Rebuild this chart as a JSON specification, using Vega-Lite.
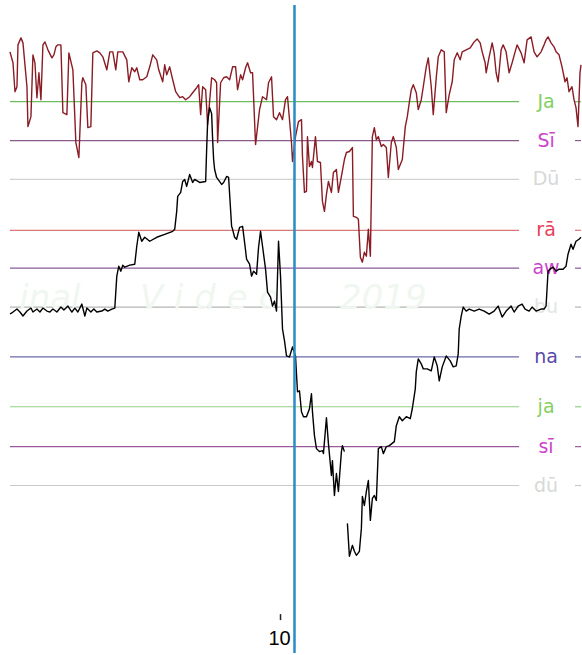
{
  "$schema": "https://vega.github.io/schema/vega-lite/v6.json",
  "width": 582,
  "height": 655,
  "autosize": {"type": "fit", "contains": "padding"},
  "padding": 0,
  "background": "#ffffff",
  "config": {"view": {"stroke": null}},
  "datasets": {
    "hl": [
      {"name": "Ja", "y": 102, "lc": "#6cbf5c", "tc": "#7fd060"},
      {"name": "Sī", "y": 141, "lc": "#8a5a8a", "tc": "#cc44cc"},
      {"name": "Dū", "y": 180, "lc": "#d2d2d2", "tc": "#d8d8d8"},
      {"name": "rā", "y": 231, "lc": "#d87878", "tc": "#e8405a"},
      {"name": "aw", "y": 269, "lc": "#8a5a9a", "tc": "#c844c8"},
      {"name": "bu", "y": 308, "lc": "#b4b4b4", "tc": "#e4e4e4"},
      {"name": "na", "y": 358, "lc": "#6a6aaa", "tc": "#5a4aa8"},
      {"name": "ja", "y": 408, "lc": "#90d080", "tc": "#84d060"},
      {"name": "sī", "y": 448, "lc": "#9a5a9a", "tc": "#cc44cc"},
      {"name": "dū", "y": 487, "lc": "#cacaca", "tc": "#d8d8d8"}
    ],
    "wm": [
      {"t": "inal", "x": 50, "y": 300},
      {"t": "V   i  d   e  o", "x": 210, "y": 300},
      {"t": "2019", "x": 384, "y": 300}
    ],
    "tk": [
      {"t": "10", "x": 280, "y": 641}
    ],
    "pts": [
      {"s": "#8a1c24", "g": "R", "x": 10, "y": 52},
      {"s": "#8a1c24", "g": "R", "x": 13, "y": 63},
      {"s": "#8a1c24", "g": "R", "x": 15, "y": 92},
      {"s": "#8a1c24", "g": "R", "x": 17, "y": 87},
      {"s": "#8a1c24", "g": "R", "x": 18, "y": 45},
      {"s": "#8a1c24", "g": "R", "x": 21, "y": 38},
      {"s": "#8a1c24", "g": "R", "x": 23, "y": 43},
      {"s": "#8a1c24", "g": "R", "x": 27, "y": 87},
      {"s": "#8a1c24", "g": "R", "x": 28, "y": 127},
      {"s": "#8a1c24", "g": "R", "x": 31, "y": 117},
      {"s": "#8a1c24", "g": "R", "x": 33, "y": 55},
      {"s": "#8a1c24", "g": "R", "x": 35, "y": 63},
      {"s": "#8a1c24", "g": "R", "x": 37, "y": 98},
      {"s": "#8a1c24", "g": "R", "x": 39, "y": 73},
      {"s": "#8a1c24", "g": "R", "x": 41, "y": 100},
      {"s": "#8a1c24", "g": "R", "x": 43, "y": 45},
      {"s": "#8a1c24", "g": "R", "x": 45, "y": 42},
      {"s": "#8a1c24", "g": "R", "x": 48, "y": 50},
      {"s": "#8a1c24", "g": "R", "x": 52, "y": 58},
      {"s": "#8a1c24", "g": "R", "x": 54, "y": 55},
      {"s": "#8a1c24", "g": "R", "x": 56, "y": 47},
      {"s": "#8a1c24", "g": "R", "x": 58, "y": 45},
      {"s": "#8a1c24", "g": "R", "x": 61, "y": 45},
      {"s": "#8a1c24", "g": "R", "x": 63, "y": 113},
      {"s": "#8a1c24", "g": "R", "x": 67, "y": 115},
      {"s": "#8a1c24", "g": "R", "x": 69, "y": 53},
      {"s": "#8a1c24", "g": "R", "x": 73, "y": 70},
      {"s": "#8a1c24", "g": "R", "x": 76, "y": 143},
      {"s": "#8a1c24", "g": "R", "x": 79, "y": 158},
      {"s": "#8a1c24", "g": "R", "x": 82, "y": 83},
      {"s": "#8a1c24", "g": "R", "x": 83, "y": 78},
      {"s": "#8a1c24", "g": "R", "x": 86, "y": 85},
      {"s": "#8a1c24", "g": "R", "x": 88, "y": 128},
      {"s": "#8a1c24", "g": "R", "x": 91, "y": 127},
      {"s": "#8a1c24", "g": "R", "x": 93, "y": 53},
      {"s": "#8a1c24", "g": "R", "x": 97, "y": 51},
      {"s": "#8a1c24", "g": "R", "x": 100, "y": 53},
      {"s": "#8a1c24", "g": "R", "x": 103, "y": 57},
      {"s": "#8a1c24", "g": "R", "x": 107, "y": 70},
      {"s": "#8a1c24", "g": "R", "x": 110, "y": 52},
      {"s": "#8a1c24", "g": "R", "x": 113, "y": 52},
      {"s": "#8a1c24", "g": "R", "x": 116, "y": 70},
      {"s": "#8a1c24", "g": "R", "x": 118, "y": 52},
      {"s": "#8a1c24", "g": "R", "x": 123, "y": 52},
      {"s": "#8a1c24", "g": "R", "x": 127, "y": 60},
      {"s": "#8a1c24", "g": "R", "x": 129, "y": 82},
      {"s": "#8a1c24", "g": "R", "x": 132, "y": 68},
      {"s": "#8a1c24", "g": "R", "x": 135, "y": 72},
      {"s": "#8a1c24", "g": "R", "x": 137, "y": 68},
      {"s": "#8a1c24", "g": "R", "x": 140, "y": 80},
      {"s": "#8a1c24", "g": "R", "x": 143, "y": 80},
      {"s": "#8a1c24", "g": "R", "x": 147, "y": 77},
      {"s": "#8a1c24", "g": "R", "x": 150, "y": 67},
      {"s": "#8a1c24", "g": "R", "x": 153, "y": 55},
      {"s": "#8a1c24", "g": "R", "x": 157, "y": 60},
      {"s": "#8a1c24", "g": "R", "x": 159, "y": 70},
      {"s": "#8a1c24", "g": "R", "x": 163, "y": 82},
      {"s": "#8a1c24", "g": "R", "x": 165, "y": 65},
      {"s": "#8a1c24", "g": "R", "x": 167, "y": 75},
      {"s": "#8a1c24", "g": "R", "x": 170, "y": 67},
      {"s": "#8a1c24", "g": "R", "x": 173, "y": 80},
      {"s": "#8a1c24", "g": "R", "x": 176, "y": 92},
      {"s": "#8a1c24", "g": "R", "x": 180, "y": 98},
      {"s": "#8a1c24", "g": "R", "x": 183, "y": 97},
      {"s": "#8a1c24", "g": "R", "x": 186, "y": 100},
      {"s": "#8a1c24", "g": "R", "x": 190, "y": 97},
      {"s": "#8a1c24", "g": "R", "x": 193, "y": 93},
      {"s": "#8a1c24", "g": "R", "x": 197, "y": 88},
      {"s": "#8a1c24", "g": "R", "x": 199, "y": 85},
      {"s": "#8a1c24", "g": "R", "x": 201, "y": 115},
      {"s": "#8a1c24", "g": "R", "x": 203, "y": 87},
      {"s": "#8a1c24", "g": "R", "x": 206, "y": 90},
      {"s": "#8a1c24", "g": "R", "x": 208, "y": 125},
      {"s": "#8a1c24", "g": "R", "x": 212, "y": 78},
      {"s": "#8a1c24", "g": "R", "x": 215, "y": 80},
      {"s": "#8a1c24", "g": "R", "x": 217, "y": 83},
      {"s": "#8a1c24", "g": "R", "x": 218, "y": 143},
      {"s": "#8a1c24", "g": "R", "x": 221, "y": 83},
      {"s": "#8a1c24", "g": "R", "x": 224, "y": 78},
      {"s": "#8a1c24", "g": "R", "x": 227, "y": 77},
      {"s": "#8a1c24", "g": "R", "x": 230, "y": 80},
      {"s": "#8a1c24", "g": "R", "x": 233, "y": 67},
      {"s": "#8a1c24", "g": "R", "x": 236, "y": 67},
      {"s": "#8a1c24", "g": "R", "x": 238, "y": 90},
      {"s": "#8a1c24", "g": "R", "x": 241, "y": 75},
      {"s": "#8a1c24", "g": "R", "x": 243, "y": 80},
      {"s": "#8a1c24", "g": "R", "x": 246, "y": 68},
      {"s": "#8a1c24", "g": "R", "x": 248, "y": 63},
      {"s": "#8a1c24", "g": "R", "x": 251, "y": 73},
      {"s": "#8a1c24", "g": "R", "x": 253, "y": 73},
      {"s": "#8a1c24", "g": "R", "x": 256, "y": 145},
      {"s": "#8a1c24", "g": "R", "x": 260, "y": 110},
      {"s": "#8a1c24", "g": "R", "x": 263, "y": 97},
      {"s": "#8a1c24", "g": "R", "x": 267, "y": 100},
      {"s": "#8a1c24", "g": "R", "x": 269, "y": 83},
      {"s": "#8a1c24", "g": "R", "x": 272, "y": 77},
      {"s": "#8a1c24", "g": "R", "x": 274, "y": 117},
      {"s": "#8a1c24", "g": "R", "x": 277, "y": 120},
      {"s": "#8a1c24", "g": "R", "x": 280, "y": 113},
      {"s": "#8a1c24", "g": "R", "x": 283, "y": 120},
      {"s": "#8a1c24", "g": "R", "x": 286, "y": 100},
      {"s": "#8a1c24", "g": "R", "x": 288, "y": 97},
      {"s": "#8a1c24", "g": "R", "x": 292, "y": 143},
      {"s": "#8a1c24", "g": "R", "x": 293, "y": 162},
      {"s": "#8a1c24", "g": "R", "x": 296, "y": 137},
      {"s": "#8a1c24", "g": "R", "x": 299, "y": 122},
      {"s": "#8a1c24", "g": "R", "x": 302, "y": 120},
      {"s": "#8a1c24", "g": "R", "x": 303, "y": 157},
      {"s": "#8a1c24", "g": "R", "x": 305, "y": 193},
      {"s": "#8a1c24", "g": "R", "x": 307, "y": 192},
      {"s": "#8a1c24", "g": "R", "x": 308, "y": 137},
      {"s": "#8a1c24", "g": "R", "x": 310, "y": 167},
      {"s": "#8a1c24", "g": "R", "x": 312, "y": 162},
      {"s": "#8a1c24", "g": "R", "x": 313, "y": 168},
      {"s": "#8a1c24", "g": "R", "x": 316, "y": 137},
      {"s": "#8a1c24", "g": "R", "x": 318, "y": 162},
      {"s": "#8a1c24", "g": "R", "x": 321, "y": 163},
      {"s": "#8a1c24", "g": "R", "x": 323, "y": 202},
      {"s": "#8a1c24", "g": "R", "x": 325, "y": 212},
      {"s": "#8a1c24", "g": "R", "x": 327, "y": 195},
      {"s": "#8a1c24", "g": "R", "x": 329, "y": 182},
      {"s": "#8a1c24", "g": "R", "x": 332, "y": 193},
      {"s": "#8a1c24", "g": "R", "x": 334, "y": 173},
      {"s": "#8a1c24", "g": "R", "x": 337, "y": 170},
      {"s": "#8a1c24", "g": "R", "x": 339, "y": 193},
      {"s": "#8a1c24", "g": "R", "x": 342, "y": 177},
      {"s": "#8a1c24", "g": "R", "x": 345, "y": 160},
      {"s": "#8a1c24", "g": "R", "x": 347, "y": 153},
      {"s": "#8a1c24", "g": "R", "x": 350, "y": 152},
      {"s": "#8a1c24", "g": "R", "x": 353, "y": 148},
      {"s": "#8a1c24", "g": "R", "x": 354, "y": 217},
      {"s": "#8a1c24", "g": "R", "x": 357, "y": 218},
      {"s": "#8a1c24", "g": "R", "x": 359, "y": 220},
      {"s": "#8a1c24", "g": "R", "x": 361, "y": 258},
      {"s": "#8a1c24", "g": "R", "x": 363, "y": 263},
      {"s": "#8a1c24", "g": "R", "x": 365, "y": 253},
      {"s": "#8a1c24", "g": "R", "x": 367, "y": 257},
      {"s": "#8a1c24", "g": "R", "x": 369, "y": 230},
      {"s": "#8a1c24", "g": "R", "x": 371, "y": 257},
      {"s": "#8a1c24", "g": "R", "x": 373, "y": 137},
      {"s": "#8a1c24", "g": "R", "x": 375, "y": 128},
      {"s": "#8a1c24", "g": "R", "x": 377, "y": 140},
      {"s": "#8a1c24", "g": "R", "x": 379, "y": 137},
      {"s": "#8a1c24", "g": "R", "x": 382, "y": 147},
      {"s": "#8a1c24", "g": "R", "x": 384, "y": 145},
      {"s": "#8a1c24", "g": "R", "x": 387, "y": 148},
      {"s": "#8a1c24", "g": "R", "x": 389, "y": 178},
      {"s": "#8a1c24", "g": "R", "x": 392, "y": 143},
      {"s": "#8a1c24", "g": "R", "x": 394, "y": 137},
      {"s": "#8a1c24", "g": "R", "x": 397, "y": 148},
      {"s": "#8a1c24", "g": "R", "x": 399, "y": 170},
      {"s": "#8a1c24", "g": "R", "x": 403, "y": 160},
      {"s": "#8a1c24", "g": "R", "x": 406, "y": 127},
      {"s": "#8a1c24", "g": "R", "x": 408, "y": 117},
      {"s": "#8a1c24", "g": "R", "x": 410, "y": 103},
      {"s": "#8a1c24", "g": "R", "x": 412, "y": 90},
      {"s": "#8a1c24", "g": "R", "x": 414, "y": 85},
      {"s": "#8a1c24", "g": "R", "x": 417, "y": 93},
      {"s": "#8a1c24", "g": "R", "x": 419, "y": 110},
      {"s": "#8a1c24", "g": "R", "x": 422, "y": 100},
      {"s": "#8a1c24", "g": "R", "x": 424, "y": 87},
      {"s": "#8a1c24", "g": "R", "x": 427, "y": 67},
      {"s": "#8a1c24", "g": "R", "x": 429, "y": 58},
      {"s": "#8a1c24", "g": "R", "x": 432, "y": 87},
      {"s": "#8a1c24", "g": "R", "x": 434, "y": 115},
      {"s": "#8a1c24", "g": "R", "x": 437, "y": 78},
      {"s": "#8a1c24", "g": "R", "x": 439, "y": 57},
      {"s": "#8a1c24", "g": "R", "x": 442, "y": 50},
      {"s": "#8a1c24", "g": "R", "x": 445, "y": 52},
      {"s": "#8a1c24", "g": "R", "x": 447, "y": 113},
      {"s": "#8a1c24", "g": "R", "x": 450, "y": 95},
      {"s": "#8a1c24", "g": "R", "x": 453, "y": 82},
      {"s": "#8a1c24", "g": "R", "x": 455, "y": 60},
      {"s": "#8a1c24", "g": "R", "x": 458, "y": 53},
      {"s": "#8a1c24", "g": "R", "x": 461, "y": 60},
      {"s": "#8a1c24", "g": "R", "x": 463, "y": 52},
      {"s": "#8a1c24", "g": "R", "x": 467, "y": 50},
      {"s": "#8a1c24", "g": "R", "x": 471, "y": 48},
      {"s": "#8a1c24", "g": "R", "x": 475, "y": 42},
      {"s": "#8a1c24", "g": "R", "x": 478, "y": 39},
      {"s": "#8a1c24", "g": "R", "x": 481, "y": 43},
      {"s": "#8a1c24", "g": "R", "x": 483, "y": 52},
      {"s": "#8a1c24", "g": "R", "x": 486, "y": 63},
      {"s": "#8a1c24", "g": "R", "x": 487, "y": 73},
      {"s": "#8a1c24", "g": "R", "x": 490, "y": 57},
      {"s": "#8a1c24", "g": "R", "x": 493, "y": 43},
      {"s": "#8a1c24", "g": "R", "x": 495, "y": 53},
      {"s": "#8a1c24", "g": "R", "x": 497, "y": 73},
      {"s": "#8a1c24", "g": "R", "x": 499, "y": 82},
      {"s": "#8a1c24", "g": "R", "x": 502, "y": 50},
      {"s": "#8a1c24", "g": "R", "x": 504, "y": 45},
      {"s": "#8a1c24", "g": "R", "x": 507, "y": 52},
      {"s": "#8a1c24", "g": "R", "x": 510, "y": 73},
      {"s": "#8a1c24", "g": "R", "x": 513, "y": 63},
      {"s": "#8a1c24", "g": "R", "x": 516, "y": 52},
      {"s": "#8a1c24", "g": "R", "x": 518, "y": 45},
      {"s": "#8a1c24", "g": "R", "x": 522, "y": 53},
      {"s": "#8a1c24", "g": "R", "x": 525, "y": 63},
      {"s": "#8a1c24", "g": "R", "x": 528, "y": 40},
      {"s": "#8a1c24", "g": "R", "x": 532, "y": 37},
      {"s": "#8a1c24", "g": "R", "x": 535, "y": 52},
      {"s": "#8a1c24", "g": "R", "x": 538, "y": 57},
      {"s": "#8a1c24", "g": "R", "x": 542, "y": 52},
      {"s": "#8a1c24", "g": "R", "x": 545, "y": 45},
      {"s": "#8a1c24", "g": "R", "x": 547, "y": 40},
      {"s": "#8a1c24", "g": "R", "x": 549, "y": 37},
      {"s": "#8a1c24", "g": "R", "x": 552, "y": 43},
      {"s": "#8a1c24", "g": "R", "x": 555, "y": 47},
      {"s": "#8a1c24", "g": "R", "x": 557, "y": 52},
      {"s": "#8a1c24", "g": "R", "x": 560, "y": 55},
      {"s": "#8a1c24", "g": "R", "x": 563, "y": 67},
      {"s": "#8a1c24", "g": "R", "x": 566, "y": 82},
      {"s": "#8a1c24", "g": "R", "x": 568, "y": 78},
      {"s": "#8a1c24", "g": "R", "x": 570, "y": 92},
      {"s": "#8a1c24", "g": "R", "x": 573, "y": 87},
      {"s": "#8a1c24", "g": "R", "x": 575, "y": 100},
      {"s": "#8a1c24", "g": "R", "x": 577, "y": 108},
      {"s": "#8a1c24", "g": "R", "x": 579, "y": 127},
      {"s": "#8a1c24", "g": "R", "x": 581, "y": 73},
      {"s": "#8a1c24", "g": "R", "x": 582, "y": 65},

      {"s": "#000000", "g": "A", "x": 10, "y": 315},
      {"s": "#000000", "g": "A", "x": 13, "y": 313},
      {"s": "#000000", "g": "A", "x": 17, "y": 310},
      {"s": "#000000", "g": "A", "x": 20, "y": 313},
      {"s": "#000000", "g": "A", "x": 23, "y": 317},
      {"s": "#000000", "g": "A", "x": 27, "y": 312},
      {"s": "#000000", "g": "A", "x": 31, "y": 309},
      {"s": "#000000", "g": "A", "x": 33, "y": 313},
      {"s": "#000000", "g": "A", "x": 37, "y": 310},
      {"s": "#000000", "g": "A", "x": 40, "y": 313},
      {"s": "#000000", "g": "A", "x": 43, "y": 309},
      {"s": "#000000", "g": "A", "x": 47, "y": 312},
      {"s": "#000000", "g": "A", "x": 50, "y": 313},
      {"s": "#000000", "g": "A", "x": 53, "y": 310},
      {"s": "#000000", "g": "A", "x": 57, "y": 313},
      {"s": "#000000", "g": "A", "x": 61, "y": 308},
      {"s": "#000000", "g": "A", "x": 64, "y": 311},
      {"s": "#000000", "g": "A", "x": 68, "y": 307},
      {"s": "#000000", "g": "A", "x": 72, "y": 313},
      {"s": "#000000", "g": "A", "x": 75, "y": 309},
      {"s": "#000000", "g": "A", "x": 78, "y": 313},
      {"s": "#000000", "g": "A", "x": 82, "y": 305},
      {"s": "#000000", "g": "A", "x": 85, "y": 317},
      {"s": "#000000", "g": "A", "x": 87, "y": 309},
      {"s": "#000000", "g": "A", "x": 91, "y": 313},
      {"s": "#000000", "g": "A", "x": 94, "y": 310},
      {"s": "#000000", "g": "A", "x": 97, "y": 313},
      {"s": "#000000", "g": "A", "x": 102, "y": 312},
      {"s": "#000000", "g": "A", "x": 105, "y": 310},
      {"s": "#000000", "g": "A", "x": 108, "y": 312},
      {"s": "#000000", "g": "A", "x": 112, "y": 310},
      {"s": "#000000", "g": "A", "x": 115, "y": 309},
      {"s": "#000000", "g": "A", "x": 117, "y": 277},
      {"s": "#000000", "g": "A", "x": 119, "y": 267},
      {"s": "#000000", "g": "A", "x": 121, "y": 272},
      {"s": "#000000", "g": "A", "x": 123, "y": 266},
      {"s": "#000000", "g": "A", "x": 125, "y": 268},
      {"s": "#000000", "g": "A", "x": 130, "y": 266},
      {"s": "#000000", "g": "A", "x": 135, "y": 265},
      {"s": "#000000", "g": "A", "x": 137, "y": 247},
      {"s": "#000000", "g": "A", "x": 139, "y": 233},
      {"s": "#000000", "g": "A", "x": 142, "y": 242},
      {"s": "#000000", "g": "A", "x": 145, "y": 238},
      {"s": "#000000", "g": "A", "x": 150, "y": 242},
      {"s": "#000000", "g": "A", "x": 157, "y": 238},
      {"s": "#000000", "g": "A", "x": 165, "y": 235},
      {"s": "#000000", "g": "A", "x": 173, "y": 232},
      {"s": "#000000", "g": "A", "x": 175, "y": 230},
      {"s": "#000000", "g": "A", "x": 177, "y": 212},
      {"s": "#000000", "g": "A", "x": 178, "y": 197},
      {"s": "#000000", "g": "A", "x": 181, "y": 193},
      {"s": "#000000", "g": "A", "x": 183, "y": 182},
      {"s": "#000000", "g": "A", "x": 185, "y": 180},
      {"s": "#000000", "g": "A", "x": 187, "y": 187},
      {"s": "#000000", "g": "A", "x": 190, "y": 175},
      {"s": "#000000", "g": "A", "x": 193, "y": 183},
      {"s": "#000000", "g": "A", "x": 195, "y": 180},
      {"s": "#000000", "g": "A", "x": 200, "y": 183},
      {"s": "#000000", "g": "A", "x": 206, "y": 182},
      {"s": "#000000", "g": "A", "x": 207, "y": 150},
      {"s": "#000000", "g": "A", "x": 208, "y": 122},
      {"s": "#000000", "g": "A", "x": 210, "y": 108},
      {"s": "#000000", "g": "A", "x": 212, "y": 114},
      {"s": "#000000", "g": "A", "x": 213, "y": 140},
      {"s": "#000000", "g": "A", "x": 214, "y": 160},
      {"s": "#000000", "g": "A", "x": 215, "y": 170},
      {"s": "#000000", "g": "A", "x": 217, "y": 178},
      {"s": "#000000", "g": "A", "x": 222, "y": 185},
      {"s": "#000000", "g": "A", "x": 224, "y": 183},
      {"s": "#000000", "g": "A", "x": 227, "y": 177},
      {"s": "#000000", "g": "A", "x": 229, "y": 178},
      {"s": "#000000", "g": "A", "x": 232, "y": 227},
      {"s": "#000000", "g": "A", "x": 233, "y": 230},
      {"s": "#000000", "g": "A", "x": 235, "y": 238},
      {"s": "#000000", "g": "A", "x": 237, "y": 240},
      {"s": "#000000", "g": "A", "x": 240, "y": 228},
      {"s": "#000000", "g": "A", "x": 243, "y": 227},
      {"s": "#000000", "g": "A", "x": 245, "y": 243},
      {"s": "#000000", "g": "A", "x": 247, "y": 260},
      {"s": "#000000", "g": "A", "x": 250, "y": 265},
      {"s": "#000000", "g": "A", "x": 252, "y": 277},
      {"s": "#000000", "g": "A", "x": 254, "y": 272},
      {"s": "#000000", "g": "A", "x": 257, "y": 275},
      {"s": "#000000", "g": "A", "x": 259, "y": 248},
      {"s": "#000000", "g": "A", "x": 261, "y": 232},
      {"s": "#000000", "g": "A", "x": 263, "y": 247},
      {"s": "#000000", "g": "A", "x": 266, "y": 270},
      {"s": "#000000", "g": "A", "x": 268, "y": 293},
      {"s": "#000000", "g": "A", "x": 271, "y": 298},
      {"s": "#000000", "g": "A", "x": 273, "y": 307},
      {"s": "#000000", "g": "A", "x": 275, "y": 302},
      {"s": "#000000", "g": "A", "x": 277, "y": 312},
      {"s": "#000000", "g": "A", "x": 279, "y": 242},
      {"s": "#000000", "g": "A", "x": 281, "y": 277},
      {"s": "#000000", "g": "A", "x": 283, "y": 330},
      {"s": "#000000", "g": "A", "x": 285, "y": 342},
      {"s": "#000000", "g": "A", "x": 287, "y": 357},
      {"s": "#000000", "g": "A", "x": 290, "y": 358},
      {"s": "#000000", "g": "A", "x": 293, "y": 348},
      {"s": "#000000", "g": "A", "x": 296, "y": 357},
      {"s": "#000000", "g": "A", "x": 298, "y": 393},
      {"s": "#000000", "g": "A", "x": 300, "y": 392},
      {"s": "#000000", "g": "A", "x": 302, "y": 413},
      {"s": "#000000", "g": "A", "x": 304, "y": 418},
      {"s": "#000000", "g": "A", "x": 307, "y": 418},
      {"s": "#000000", "g": "A", "x": 310, "y": 410},
      {"s": "#000000", "g": "A", "x": 312, "y": 395},
      {"s": "#000000", "g": "A", "x": 313, "y": 413},
      {"s": "#000000", "g": "A", "x": 315, "y": 437},
      {"s": "#000000", "g": "A", "x": 317, "y": 450},
      {"s": "#000000", "g": "A", "x": 320, "y": 453},
      {"s": "#000000", "g": "A", "x": 323, "y": 452},
      {"s": "#000000", "g": "A", "x": 324, "y": 455},
      {"s": "#000000", "g": "A", "x": 327, "y": 419},
      {"s": "#000000", "g": "A", "x": 329, "y": 445},
      {"s": "#000000", "g": "A", "x": 332, "y": 477},
      {"s": "#000000", "g": "A", "x": 333, "y": 462},
      {"s": "#000000", "g": "A", "x": 335, "y": 497},
      {"s": "#000000", "g": "A", "x": 337, "y": 475},
      {"s": "#000000", "g": "A", "x": 339, "y": 493},
      {"s": "#000000", "g": "A", "x": 342, "y": 453},
      {"s": "#000000", "g": "A", "x": 343, "y": 447},
      {"s": "#000000", "g": "A", "x": 345, "y": 453},

      {"s": "#000000", "g": "B", "x": 348, "y": 525},
      {"s": "#000000", "g": "B", "x": 350, "y": 558},
      {"s": "#000000", "g": "B", "x": 353, "y": 547},
      {"s": "#000000", "g": "B", "x": 355, "y": 553},
      {"s": "#000000", "g": "B", "x": 357, "y": 557},
      {"s": "#000000", "g": "B", "x": 360, "y": 553},
      {"s": "#000000", "g": "B", "x": 362, "y": 530},
      {"s": "#000000", "g": "B", "x": 363, "y": 498},
      {"s": "#000000", "g": "B", "x": 365, "y": 507},
      {"s": "#000000", "g": "B", "x": 367, "y": 493},
      {"s": "#000000", "g": "B", "x": 369, "y": 482},
      {"s": "#000000", "g": "B", "x": 371, "y": 522},
      {"s": "#000000", "g": "B", "x": 373, "y": 500},
      {"s": "#000000", "g": "B", "x": 375, "y": 497},
      {"s": "#000000", "g": "B", "x": 377, "y": 502},
      {"s": "#000000", "g": "B", "x": 379, "y": 450},
      {"s": "#000000", "g": "B", "x": 382, "y": 448},
      {"s": "#000000", "g": "B", "x": 384, "y": 455},
      {"s": "#000000", "g": "B", "x": 387, "y": 448},
      {"s": "#000000", "g": "B", "x": 390, "y": 447},
      {"s": "#000000", "g": "B", "x": 395, "y": 443},
      {"s": "#000000", "g": "B", "x": 397, "y": 427},
      {"s": "#000000", "g": "B", "x": 400, "y": 418},
      {"s": "#000000", "g": "B", "x": 403, "y": 422},
      {"s": "#000000", "g": "B", "x": 407, "y": 418},
      {"s": "#000000", "g": "B", "x": 411, "y": 420},
      {"s": "#000000", "g": "B", "x": 413, "y": 410},
      {"s": "#000000", "g": "B", "x": 416, "y": 390},
      {"s": "#000000", "g": "B", "x": 417, "y": 373},
      {"s": "#000000", "g": "B", "x": 419, "y": 360},
      {"s": "#000000", "g": "B", "x": 422, "y": 365},
      {"s": "#000000", "g": "B", "x": 424, "y": 370},
      {"s": "#000000", "g": "B", "x": 428, "y": 370},
      {"s": "#000000", "g": "B", "x": 432, "y": 372},
      {"s": "#000000", "g": "B", "x": 435, "y": 358},
      {"s": "#000000", "g": "B", "x": 438, "y": 367},
      {"s": "#000000", "g": "B", "x": 440, "y": 382},
      {"s": "#000000", "g": "B", "x": 443, "y": 368},
      {"s": "#000000", "g": "B", "x": 447, "y": 357},
      {"s": "#000000", "g": "B", "x": 451, "y": 362},
      {"s": "#000000", "g": "B", "x": 454, "y": 368},
      {"s": "#000000", "g": "B", "x": 457, "y": 367},
      {"s": "#000000", "g": "B", "x": 459, "y": 355},
      {"s": "#000000", "g": "B", "x": 460, "y": 330},
      {"s": "#000000", "g": "B", "x": 462, "y": 317},
      {"s": "#000000", "g": "B", "x": 464, "y": 308},
      {"s": "#000000", "g": "B", "x": 467, "y": 312},
      {"s": "#000000", "g": "B", "x": 470, "y": 310},
      {"s": "#000000", "g": "B", "x": 475, "y": 312},
      {"s": "#000000", "g": "B", "x": 480, "y": 310},
      {"s": "#000000", "g": "B", "x": 485, "y": 312},
      {"s": "#000000", "g": "B", "x": 490, "y": 315},
      {"s": "#000000", "g": "B", "x": 495, "y": 312},
      {"s": "#000000", "g": "B", "x": 499, "y": 307},
      {"s": "#000000", "g": "B", "x": 503, "y": 318},
      {"s": "#000000", "g": "B", "x": 507, "y": 312},
      {"s": "#000000", "g": "B", "x": 512, "y": 307},
      {"s": "#000000", "g": "B", "x": 515, "y": 313},
      {"s": "#000000", "g": "B", "x": 519, "y": 307},
      {"s": "#000000", "g": "B", "x": 523, "y": 305},
      {"s": "#000000", "g": "B", "x": 526, "y": 310},
      {"s": "#000000", "g": "B", "x": 530, "y": 312},
      {"s": "#000000", "g": "B", "x": 533, "y": 308},
      {"s": "#000000", "g": "B", "x": 537, "y": 312},
      {"s": "#000000", "g": "B", "x": 542, "y": 310},
      {"s": "#000000", "g": "B", "x": 545, "y": 310},
      {"s": "#000000", "g": "B", "x": 547, "y": 307},
      {"s": "#000000", "g": "B", "x": 549, "y": 272},
      {"s": "#000000", "g": "B", "x": 551, "y": 270},
      {"s": "#000000", "g": "B", "x": 554, "y": 268},
      {"s": "#000000", "g": "B", "x": 557, "y": 272},
      {"s": "#000000", "g": "B", "x": 560, "y": 270},
      {"s": "#000000", "g": "B", "x": 564, "y": 270},
      {"s": "#000000", "g": "B", "x": 567, "y": 267},
      {"s": "#000000", "g": "B", "x": 569, "y": 255},
      {"s": "#000000", "g": "B", "x": 572, "y": 245},
      {"s": "#000000", "g": "B", "x": 574, "y": 250},
      {"s": "#000000", "g": "B", "x": 577, "y": 242},
      {"s": "#000000", "g": "B", "x": 580, "y": 240},
      {"s": "#000000", "g": "B", "x": 582, "y": 238}
    ]
  },
  "layer": [
    {
      "data": {"name": "hl"},
      "mark": {"type": "rule", "strokeWidth": 1.2},
      "encoding": {
        "x": {"datum": 10, "type": "quantitative", "scale": {"domain": [0, 582], "nice": false, "zero": false}, "axis": null},
        "x2": {"datum": 520},
        "y": {"field": "y", "type": "quantitative", "scale": {"domain": [0, 655], "nice": false, "zero": false, "reverse": true}, "axis": null},
        "color": {"field": "lc", "type": "nominal", "scale": null, "legend": null}
      }
    },
    {
      "data": {"name": "hl"},
      "mark": {"type": "rule", "strokeWidth": 1.2},
      "encoding": {
        "x": {"datum": 576, "type": "quantitative"},
        "x2": {"datum": 582},
        "y": {"field": "y", "type": "quantitative"},
        "color": {"field": "lc", "type": "nominal", "scale": null, "legend": null}
      }
    },
    {
      "data": {"name": "wm"},
      "mark": {"type": "text", "font": "DejaVu Sans", "fontSize": 34, "fontStyle": "italic", "color": "#f0f7f0", "align": "center", "baseline": "middle"},
      "encoding": {
        "x": {"field": "x", "type": "quantitative"},
        "y": {"field": "y", "type": "quantitative"},
        "text": {"field": "t"}
      }
    },
    {
      "data": {"name": "hl"},
      "mark": {"type": "text", "font": "DejaVu Sans", "fontSize": 19, "align": "center", "baseline": "middle"},
      "encoding": {
        "x": {"datum": 547, "type": "quantitative"},
        "y": {"field": "y", "type": "quantitative"},
        "text": {"field": "name"},
        "color": {"field": "tc", "type": "nominal", "scale": null, "legend": null}
      }
    },
    {
      "data": {"name": "pts"},
      "mark": {"type": "line", "strokeWidth": 1.4, "strokeJoin": "round"},
      "encoding": {
        "x": {"field": "x", "type": "quantitative"},
        "y": {"field": "y", "type": "quantitative"},
        "color": {"field": "s", "type": "nominal", "scale": null, "legend": null},
        "detail": {"field": "g"}
      }
    },
    {
      "data": {"values": [{"a": 1}]},
      "mark": {"type": "rule", "color": "#2a8cc4", "strokeWidth": 2.5},
      "encoding": {
        "x": {"datum": 295, "type": "quantitative"},
        "y": {"datum": 5, "type": "quantitative"},
        "y2": {"datum": 655}
      }
    },
    {
      "data": {"values": [{"a": 1}]},
      "mark": {"type": "rule", "color": "#222222", "strokeWidth": 1.5},
      "encoding": {
        "x": {"datum": 281, "type": "quantitative"},
        "y": {"datum": 616, "type": "quantitative"},
        "y2": {"datum": 622}
      }
    },
    {
      "data": {"name": "tk"},
      "mark": {"type": "text", "font": "Liberation Sans", "fontSize": 20, "fontWeight": 500, "color": "#000000", "align": "center", "baseline": "middle"},
      "encoding": {
        "x": {"field": "x", "type": "quantitative"},
        "y": {"field": "y", "type": "quantitative"},
        "text": {"field": "t"}
      }
    }
  ]
}
